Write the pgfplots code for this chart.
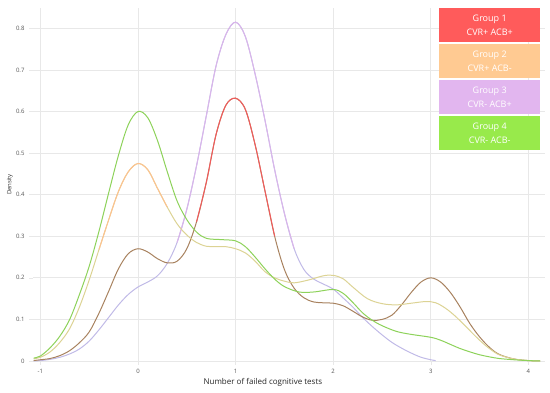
\documentclass[border=0pt]{standalone}
\usepackage{pgfplots}
\pgfplotsset{compat=1.18}
\usepackage{pgfplotstable}
\usepackage{fontspec}
\setmainfont{Open Sans}
\definecolor{gridc}{HTML}{E8E8E8}
\definecolor{tickc}{HTML}{555555}
\definecolor{redL}{HTML}{F25A5C}
\definecolor{redD}{HTML}{A8825F}
\definecolor{orgL}{HTML}{FDC290}
\definecolor{orgD}{HTML}{DCD394}
\definecolor{purL}{HTML}{DAB5EA}
\definecolor{purD}{HTML}{C0BAE7}
\definecolor{grnL}{HTML}{8DD25A}
\definecolor{box1}{HTML}{FF5B5B}
\definecolor{box2}{HTML}{FFCA92}
\definecolor{box3}{HTML}{E2B6EF}
\definecolor{box4}{HTML}{98EA4B}

\pgfplotstableread{
x y
-1.07 0.001
-1 0.003
-0.9 0.006
-0.8 0.013
-0.7 0.025
-0.6 0.044
-0.5 0.07
-0.4 0.115
-0.3 0.168
-0.2 0.222
-0.1 0.258
0 0.27
0.1 0.262
0.2 0.246
0.3 0.236
0.4 0.24
0.5 0.27
0.6 0.335
0.7 0.43
0.8 0.545
0.9 0.615
1.0 0.632
1.1 0.605
1.2 0.52
1.3 0.41
1.4 0.3
1.5 0.22
1.6 0.175
1.7 0.152
1.8 0.142
1.9 0.14
2.0 0.139
2.1 0.133
2.2 0.12
2.3 0.106
2.4 0.098
2.5 0.1
2.6 0.11
2.7 0.135
2.8 0.165
2.9 0.19
3.0 0.2
3.1 0.19
3.2 0.165
3.3 0.13
3.4 0.09
3.5 0.058
3.6 0.033
3.7 0.016
3.85 0.005
4.0 0.001
4.12 0
}\gone
\pgfplotstableread{
x y
0.6 0.335
0.7 0.43
0.8 0.545
0.9 0.615
1.0 0.632
1.1 0.605
1.2 0.52
1.3 0.41
1.4 0.3
}\goneTop
\pgfplotstableread{
x y
-1.07 0.005
-1 0.009
-0.9 0.022
-0.8 0.045
-0.7 0.078
-0.6 0.13
-0.5 0.195
-0.4 0.268
-0.3 0.34
-0.2 0.408
-0.1 0.455
0 0.475
0.1 0.46
0.2 0.415
0.3 0.37
0.4 0.33
0.5 0.303
0.6 0.285
0.7 0.276
0.8 0.275
0.9 0.275
1.0 0.27
1.1 0.26
1.2 0.24
1.3 0.215
1.4 0.2
1.5 0.192
1.6 0.188
1.75 0.195
1.9 0.205
2.0 0.206
2.1 0.198
2.2 0.178
2.35 0.15
2.5 0.138
2.65 0.135
2.8 0.139
2.95 0.143
3.05 0.14
3.15 0.127
3.25 0.108
3.35 0.085
3.5 0.05
3.6 0.03
3.7 0.015
3.85 0.005
4.0 0.001
4.12 0
}\gtwo
\pgfplotstableread{
x y
-0.4 0.268
-0.3 0.34
-0.2 0.408
-0.1 0.455
0 0.475
0.1 0.46
0.2 0.415
0.3 0.37
}\gtwoTop
\pgfplotstableread{
x y
-1.07 0
-1 0.001
-0.9 0.004
-0.8 0.009
-0.7 0.017
-0.6 0.029
-0.5 0.048
-0.4 0.075
-0.3 0.105
-0.2 0.135
-0.1 0.16
0 0.178
0.1 0.19
0.2 0.205
0.3 0.235
0.4 0.285
0.5 0.365
0.6 0.47
0.7 0.59
0.8 0.71
0.9 0.785
1.0 0.815
1.1 0.78
1.2 0.69
1.3 0.58
1.4 0.46
1.5 0.355
1.6 0.27
1.7 0.22
1.8 0.197
1.9 0.185
2.0 0.173
2.1 0.152
2.2 0.13
2.3 0.105
2.4 0.083
2.5 0.063
2.6 0.045
2.7 0.031
2.8 0.019
2.9 0.009
3.0 0.003
3.05 0.001
}\gthree
\pgfplotstableread{
x y
0.4 0.285
0.5 0.365
0.6 0.47
0.7 0.59
0.8 0.71
0.9 0.785
1.0 0.815
1.1 0.78
1.2 0.69
1.3 0.58
1.4 0.46
1.5 0.355
1.6 0.27
}\gthreeTop
\pgfplotstableread{
x y
-1.07 0.007
-1 0.012
-0.9 0.032
-0.8 0.06
-0.7 0.1
-0.6 0.16
-0.5 0.228
-0.4 0.312
-0.3 0.405
-0.2 0.495
-0.1 0.568
0 0.60
0.1 0.585
0.2 0.53
0.3 0.455
0.4 0.385
0.5 0.34
0.6 0.31
0.7 0.295
0.85 0.292
1.0 0.289
1.1 0.275
1.2 0.25
1.3 0.222
1.4 0.197
1.5 0.179
1.65 0.166
1.8 0.166
2.0 0.172
2.1 0.163
2.2 0.141
2.3 0.116
2.4 0.098
2.5 0.085
2.65 0.071
2.8 0.064
3.0 0.057
3.1 0.05
3.2 0.04
3.3 0.03
3.4 0.022
3.5 0.015
3.6 0.01
3.7 0.006
3.85 0.003
4.0 0.001
4.12 0
}\gfour

\begin{document}
\begin{tikzpicture}
\useasboundingbox (0,0) rectangle (550pt,392pt);
\begin{axis}[
  at={(33pt,31pt)}, anchor=south west,
  scale only axis, width=512pt, height=353pt,
  xmin=-1.076, xmax=4.17, ymin=0, ymax=0.849,
  xtick={-1,0,1,2,3,4},
  ytick={0,0.1,0.2,0.3,0.4,0.5,0.6,0.7,0.8},
  yticklabels={0,0.1,0.2,0.3,0.4,0.5,0.6,0.7,0.8},
  axis line style={draw=none},
  grid=major,
  major grid style={gridc, line width=0.7pt},
  tick style={draw=gridc, line width=0.6pt},
  tick align=outside, major tick length=4pt,
  xtick pos=bottom, ytick pos=left,
  tick label style={font=\fontsize{6}{7}\selectfont, text=tickc},
  /pgf/number format/assume math mode=true,
  xticklabel style={yshift=-1pt},
  yticklabel style={xshift=-1pt},
  xlabel={Number of failed cognitive tests},
  xlabel style={at={(axis description cs:0.449,-0.062)}, anchor=center, font=\fontsize{8}{9}\selectfont, text=black!85},
  ylabel={Density},
  ylabel style={at={(axis description cs:-0.045,0.5)}, anchor=center, rotate=0, font=\fontsize{6}{7}\selectfont, text=black!80},
  every axis plot/.append style={line width=1pt, smooth, tension=0.55},
  clip=false,
]
\addplot[purD] table {\gthree};
\addplot[purL] table {\gthreeTop};
\addplot[redD] table {\gone};
\addplot[redL] table {\goneTop};
\addplot[orgD] table {\gtwo};
\addplot[orgL] table {\gtwoTop};
\addplot[grnL] table {\gfour};
\end{axis}
\tikzset{lb/.style={anchor=north west, minimum width=101pt, minimum height=34pt, inner sep=0pt, text=white, align=center, font=\fontsize{9}{14}\selectfont}}
\node[lb, fill=box1] at (439pt,384pt) {Group 1\\CVR+ ACB+};
\node[lb, fill=box2] at (439pt,348pt) {Group 2\\CVR+ ACB-};
\node[lb, fill=box3] at (439pt,312pt) {Group 3\\CVR- ACB+};
\node[lb, fill=box4] at (439pt,276pt) {Group 4\\CVR- ACB-};
\end{tikzpicture}
\end{document}
